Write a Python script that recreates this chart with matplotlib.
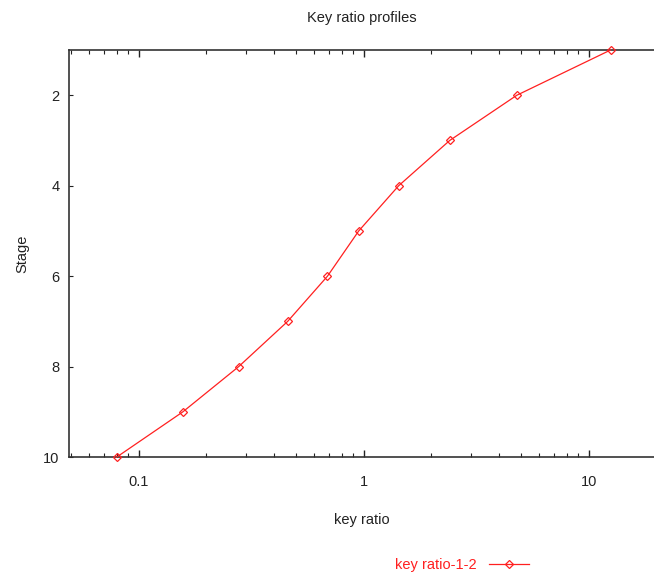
import matplotlib
matplotlib.use("Agg")
import matplotlib.pyplot as plt
from matplotlib.ticker import LogLocator, FixedLocator, NullFormatter, FuncFormatter
from matplotlib.lines import Line2D

plt.rcParams['font.family'] = ['Liberation Sans', 'DejaVu Sans']

stages = [1, 2, 3, 4, 5, 6, 7, 8, 9, 10]
key_ratio = [12.5, 4.79, 2.41, 1.43, 0.95, 0.69, 0.459, 0.278, 0.157, 0.0798]
series_name = "key ratio-1-2"
x_ticks = [0.1, 1, 10]
y_ticks = [2, 4, 6, 8, 10]

red = "#ff2020"
ink = "#222222"
fs = 10.5

fig = plt.figure(figsize=(6.54, 5.75), dpi=100)
ax = fig.add_axes([0.1055, 0.205, 0.8945, 0.708])

ax.plot(key_ratio, stages, color=red, lw=0.9, marker="D", ms=4.5,
        mfc="none", mec=red, mew=0.9, clip_on=False, zorder=5)

ax.set_xscale("log")
ax.set_xlim(0.049, 19.5)
ax.set_ylim(10, 1)

ax.xaxis.set_major_locator(FixedLocator(x_ticks))
ax.xaxis.set_major_formatter(FuncFormatter(lambda v, p: f"{v:g}"))
ax.xaxis.set_minor_locator(LogLocator(base=10, subs=range(2, 10)))
ax.xaxis.set_minor_formatter(NullFormatter())
ax.yaxis.set_major_locator(FixedLocator(y_ticks))

ax.tick_params(axis="x", which="both", direction="in", top=True, bottom=True,
               labelsize=fs, pad=13, colors=ink)
ax.tick_params(axis="x", which="major", length=5, width=1)
ax.tick_params(axis="x", which="minor", length=3, width=0.8)
ax.tick_params(axis="y", which="major", direction="in", left=True, right=False,
               length=3, width=0.8, labelsize=fs, pad=7, colors=ink)

for side in ("left", "bottom", "top"):
    ax.spines[side].set_color("#333333")
    ax.spines[side].set_linewidth(1.2)
ax.spines["right"].set_visible(False)

ax.set_title("Key ratio profiles", fontsize=fs, color=ink, pad=20)
ax.set_xlabel("key ratio", fontsize=fs, color=ink, labelpad=17)
ax.set_ylabel("Stage", fontsize=fs, color=ink, labelpad=10)

handle = Line2D([], [], color=red, lw=0.9, marker="D", ms=4, mfc="none",
                mec=red, mew=0.9)
leg = fig.legend([handle], [series_name], loc="center", bbox_to_anchor=(0.707, 0.017),
                 frameon=False, fontsize=fs, markerfirst=False, handlelength=2.8,
                 handletextpad=0.8, borderpad=0)
for t in leg.get_texts():
    t.set_color(red)

fig.savefig("out.png", dpi=100)
